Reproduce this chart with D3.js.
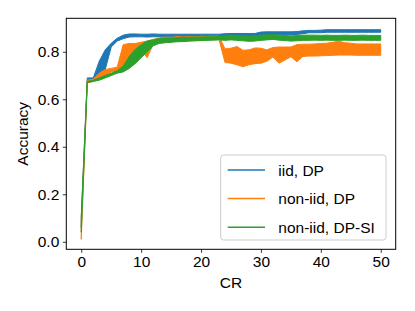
<!DOCTYPE html>
<html>
<head>
<meta charset="utf-8">
<script src="https://cdn.jsdelivr.net/npm/d3@7"></script>
<style>
  body { margin: 0; background: #fff; }
  svg { display: block; font-family: "Liberation Sans", Arial, sans-serif; }
</style>
</head>
<body>
<svg id="chart" width="415" height="311"></svg>
<script>
// communication rounds
let cr = [0, 1, 2, 3, 4, 5, 6, 7, 8, 9, 10, 11, 12, 13, 14, 15, 16, 17, 18, 19, 20,
    21, 22, 23, 24, 25, 26, 27, 28, 29, 30, 31, 32, 33, 34, 35, 36, 37, 38, 39, 40,
    41, 42, 43, 44, 45, 46, 47, 48, 49, 50];

// iid, DP (min / max band)
let iidLo = [0.06, 0.68, 0.683, 0.705, 0.725, 0.82, 0.845, 0.855, 0.862, 0.863, 0.863,
    0.862, 0.863, 0.863, 0.862, 0.863, 0.863, 0.862, 0.863, 0.863, 0.863,
    0.863, 0.863, 0.863, 0.864, 0.865, 0.866, 0.866, 0.866, 0.866, 0.870,
    0.872, 0.872, 0.872, 0.872, 0.872, 0.873, 0.876, 0.880, 0.880, 0.880,
    0.882, 0.882, 0.882, 0.882, 0.882, 0.882, 0.882, 0.882, 0.882, 0.882];
let iidHi = [0.10, 0.69, 0.69, 0.76, 0.808, 0.836, 0.857, 0.870, 0.875, 0.875, 0.874,
    0.874, 0.875, 0.874, 0.874, 0.874, 0.874, 0.874, 0.874, 0.874, 0.874,
    0.874, 0.874, 0.874, 0.876, 0.877, 0.877, 0.877, 0.877, 0.877, 0.883,
    0.884, 0.884, 0.884, 0.884, 0.884, 0.885, 0.888, 0.890, 0.890, 0.891,
    0.893, 0.893, 0.893, 0.893, 0.893, 0.893, 0.893, 0.893, 0.893, 0.893];

// non-iid, DP
let nonIidLo = [0.01, 0.67, 0.675, 0.69, 0.70, 0.715, 0.72, 0.735, 0.76, 0.79, 0.81,
    0.775, 0.830, 0.838, 0.840, 0.842, 0.845, 0.843, 0.846, 0.847, 0.848,
    0.850, 0.851, 0.852, 0.755, 0.752, 0.745, 0.737, 0.745, 0.750, 0.752,
    0.760, 0.778, 0.752, 0.765, 0.779, 0.758, 0.780, 0.782, 0.782, 0.783,
    0.784, 0.785, 0.786, 0.786, 0.786, 0.785, 0.785, 0.785, 0.785, 0.785];
let nonIidHi = [0.08, 0.68, 0.685, 0.71, 0.725, 0.73, 0.735, 0.83, 0.835, 0.835, 0.84,
    0.845, 0.852, 0.858, 0.862, 0.860, 0.864, 0.862, 0.864, 0.863, 0.865,
    0.865, 0.866, 0.866, 0.812, 0.815, 0.822, 0.806, 0.808, 0.816, 0.815,
    0.808, 0.818, 0.820, 0.820, 0.820, 0.830, 0.832, 0.832, 0.833, 0.835,
    0.836, 0.840, 0.844, 0.838, 0.836, 0.833, 0.833, 0.833, 0.833, 0.833];

// non-iid, DP-SI
let siLo = [0.04, 0.67, 0.675, 0.68, 0.69, 0.70, 0.71, 0.715, 0.73, 0.75, 0.775,
    0.80, 0.825, 0.835, 0.838, 0.840, 0.842, 0.843, 0.845, 0.846, 0.847,
    0.848, 0.849, 0.850, 0.848, 0.850, 0.848, 0.846, 0.844, 0.845, 0.848,
    0.850, 0.852, 0.849, 0.847, 0.845, 0.846, 0.848, 0.848, 0.849, 0.848,
    0.849, 0.848, 0.848, 0.849, 0.848, 0.848, 0.849, 0.848, 0.848, 0.848];
let siHi = [0.11, 0.675, 0.68, 0.69, 0.70, 0.71, 0.72, 0.74, 0.78, 0.81, 0.83,
    0.845, 0.85, 0.856, 0.858, 0.858, 0.860, 0.860, 0.861, 0.862, 0.862,
    0.863, 0.863, 0.864, 0.868, 0.870, 0.869, 0.867, 0.866, 0.867, 0.870,
    0.871, 0.872, 0.870, 0.868, 0.867, 0.868, 0.870, 0.870, 0.870, 0.869,
    0.870, 0.869, 0.869, 0.870, 0.869, 0.869, 0.870, 0.869, 0.869, 0.869];

let seriesNames = ["iid, DP", "non-iid, DP", "non-iid, DP-SI"];
let colors = ["#1f77b4", "#ff7f0e", "#2ca02c"];
let xTicks = [0, 10, 20, 30, 40, 50];
let yTicks = [0.0, 0.2, 0.4, 0.6, 0.8];

function drawChart() {
    let svg = d3.select("#chart");
    let left = 66.3, right = 395.7, top = 18.3, bottom = 249.3;

    let x = d3.scaleLinear().domain([-2.5, 52.5]).range([left, right]);
    let y = d3.scaleLinear().domain([-0.0317, 0.9409]).range([bottom, top]);

    let bands = [[iidLo, iidHi], [nonIidLo, nonIidHi], [siLo, siHi]];

    let area = d3.area()
        .x(d => x(d.x))
        .y0(d => y(d.lo))
        .y1(d => y(d.hi));

    let plot = svg.append("g");
    bands.forEach((b, i) => {
        let pts = cr.map((c, j) => ({ x: c, lo: b[0][j], hi: b[1][j] }));
        plot.append("path")
            .attr("d", area(pts))
            .style("fill", colors[i])
            .style("stroke", colors[i])
            .style("stroke-width", 1);
    });

    // frame
    svg.append("rect")
        .attr("x", left).attr("y", top)
        .attr("width", right - left).attr("height", bottom - top)
        .style("fill", "none")
        .style("stroke", "#000")
        .style("stroke-width", 1);

    let xAxis = svg.append("g")
        .attr("transform", `translate(0,${bottom})`)
        .call(d3.axisBottom(x).tickValues(xTicks).tickSize(3.5).tickPadding(3.5).tickFormat(d3.format("d")));
    let yAxis = svg.append("g")
        .attr("transform", `translate(${left},0)`)
        .call(d3.axisLeft(y).tickValues(yTicks).tickSize(3.5).tickPadding(3.5).tickFormat(d3.format(".1f")));

    [xAxis, yAxis].forEach(a => {
        a.select(".domain").remove();
        a.selectAll("line").style("stroke", "#000").style("stroke-width", 0.8);
        a.selectAll("text")
            .style("font-family", "Liberation Sans, Arial, sans-serif")
            .style("font-size", "15.5px")
            .style("fill", "#000");
    });

    svg.append("text")
        .attr("x", (left + right) / 2)
        .attr("y", 288)
        .style("text-anchor", "middle")
        .style("font-size", "15.5px")
        .text("CR");

    svg.append("text")
        .attr("transform", `translate(28,${(top + bottom) / 2}) rotate(-90)`)
        .style("text-anchor", "middle")
        .style("font-size", "15.5px")
        .text("Accuracy");

    // legend
    let legend = svg.append("g");
    legend.append("rect")
        .attr("x", 220.7).attr("y", 155)
        .attr("width", 165.3).attr("height", 85)
        .attr("rx", 3)
        .style("fill", "#fff")
        .style("fill-opacity", 0.8)
        .style("stroke", "#cccccc")
        .style("stroke-width", 1);

    seriesNames.forEach((name, i) => {
        let cy = 170 + i * 28.6;
        legend.append("line")
            .attr("x1", 227.7).attr("x2", 265)
            .attr("y1", cy).attr("y2", cy)
            .style("stroke", colors[i])
            .style("stroke-width", 1.5);
        legend.append("text")
            .attr("x", 278.3)
            .attr("y", cy + 5.5)
            .style("font-size", "15.5px")
            .text(name);
    });
}

drawChart();
</script>
</body>
</html>
